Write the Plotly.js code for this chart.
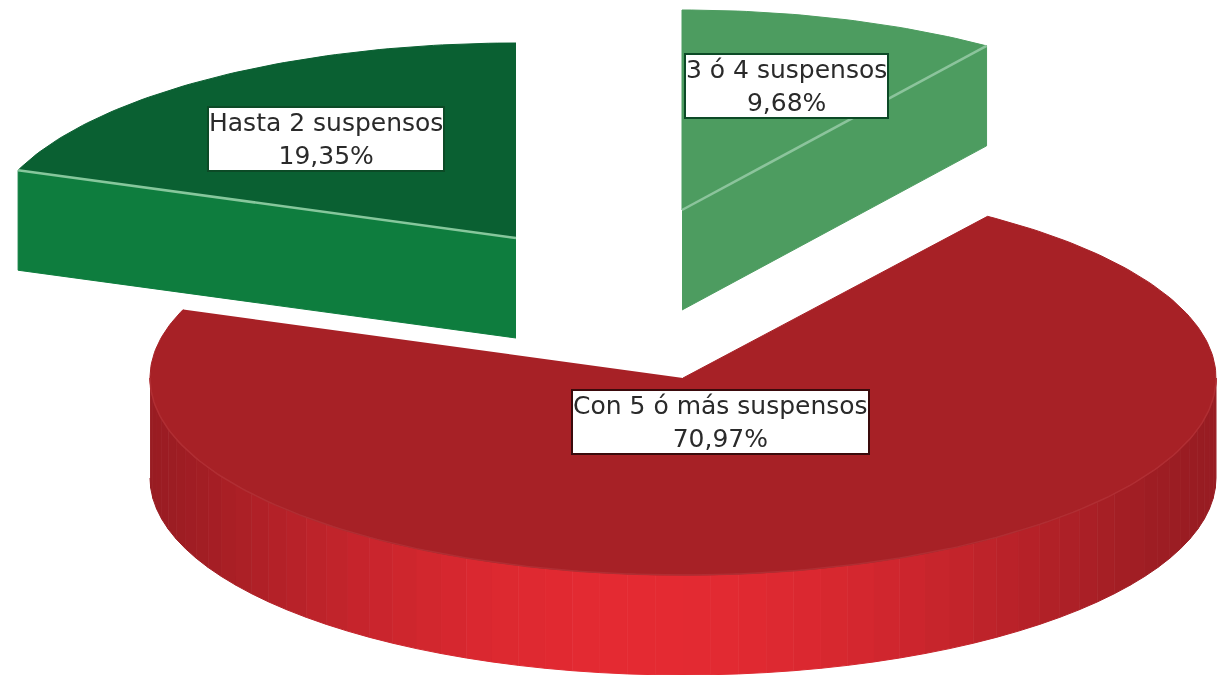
<!DOCTYPE html>
<html><head><meta charset="utf-8">
<script src="https://cdn.plot.ly/plotly-3.0.1.min.js"></script>
<style>html,body{margin:0;padding:0;background:#fff;overflow:hidden}#c{width:1229px;height:675px;filter:blur(0.6px)}</style>
</head><body><div id="c"></div>
<script>
// Data (clockwise from 12 o'clock)
const categories = ['3 ó 4 suspensos', 'Con 5 ó más suspensos', 'Hasta 2 suspensos'];
const shares = [9.68, 70.97, 19.35];
const shareLabels = ['9,68%', '70,97%', '19,35%'];

// Style
const topColors = ['#4d9c60', '#a72126', '#0a6032'];
const wallColors = ['#4d9c60', '#a72126', '#0e7d3e'];
const edgeColors = ['#8cc49c', '#b02e33', '#86c79c'];
const wallDark = [152, 28, 34], wallBright = [228, 42, 50];
const boxBorders = ['#0c4a26', '#3a0a0c', '#0c4a26'];

// Projection of the tilted disc, in pixel-like axis units
const cx = 683, cy = 378, depth = 100;
const rxs = [533, 533, 531], rys = [200, 197, 195];
const offsets = [[-1, -168], [0, 0], [-167, -140]];
const labelAt = [[786.5, 85.5], [720.5, 421.5], [325.5, 139]];

const rad = d => d * Math.PI / 180;
const rim = (i, a, dz) => [cx + offsets[i][0] + rxs[i] * Math.cos(rad(a)), cy + offsets[i][1] - rys[i] * Math.sin(rad(a)) + dz];
const apex = (i, dz) => [cx + offsets[i][0], cy + offsets[i][1] + dz];
function arc(i, a0, a1, dz) {
  const n = Math.max(2, Math.ceil(Math.abs(a1 - a0))), out = [];
  for (let k = 0; k <= n; k++) out.push(rim(i, a0 + (a1 - a0) * k / n, dz));
  return out;
}
const traces = [];
function poly(pts, fill) {
  traces.push({type: 'scatter', mode: 'lines', x: pts.map(p => p[0]), y: pts.map(p => p[1]), fill: 'toself',
    fillcolor: fill, line: {color: fill, width: 1}, hoverinfo: 'skip', showlegend: false});
}
function stroke(pts, color, width) {
  traces.push({type: 'scatter', mode: 'lines', x: pts.map(p => p[0]), y: pts.map(p => p[1]),
    line: {color: color, width: width}, hoverinfo: 'skip', showlegend: false});
}

// slice angles from the values
const total = shares.reduce((a, b) => a + b, 0);
let ang = 90;
const spans = shares.map(s => { const a0 = ang; ang -= s / total * 360; return [a0, ang]; });

// 1. large slice: curved front wall with shading, then top
{
  const i = 1, [a0, a1] = spans[i];
  for (let a = 180; a < 360; a += 3) {
    const b = a + 3;
    const t = Math.pow(Math.max(0, -Math.sin(rad(a + 1.5 + 4))), 2.8);
    const c = wallDark.map((d, j) => Math.round(d + (wallBright[j] - d) * t));
    poly(arc(i, a, b, 0).concat(arc(i, b, a, depth)), `rgb(${c.join(',')})`);
  }
  poly([apex(i, 0)].concat(arc(i, a0, a1, 0)), topColors[i]);
  stroke(arc(i, 180, 360, 0), edgeColors[i], 1.5);
}
// 2. dark green slice: top, then cut face toward the viewer
{
  const i = 2, [a0, a1] = spans[i];
  poly([apex(i, 0)].concat(arc(i, a0, a1, 0)), topColors[i]);
  poly([apex(i, 0), rim(i, a0, 0), rim(i, a0, depth), apex(i, depth)], wallColors[i]);
  stroke([rim(i, a0, 0), apex(i, 0)], edgeColors[i], 2.5);
}
// 3. light green slice
{
  const i = 0, [a0, a1] = spans[i];
  poly([apex(i, 0)].concat(arc(i, a0, a1, 0)), topColors[i]);
  poly([apex(i, 0), rim(i, a1, 0), rim(i, a1, depth), apex(i, depth)], wallColors[i]);
  stroke([apex(i, 0), rim(i, a1, 0)], edgeColors[i], 2.5);
}

const annotations = categories.map((c, i) => ({
  x: labelAt[i][0], y: labelAt[i][1], xref: 'x', yref: 'y', showarrow: false,
  text: c + '<br>' + shareLabels[i], align: 'center', xanchor: 'center', yanchor: 'middle',
  font: {family: 'DejaVu Sans, sans-serif', size: 25, color: '#2a2a2a'},
  bgcolor: '#fff', bordercolor: boxBorders[i], borderwidth: 2, borderpad: 0
}));

Plotly.newPlot('c', traces, {
  width: 1229, height: 675, margin: {l: 0, r: 0, t: 0, b: 0},
  paper_bgcolor: '#fff', plot_bgcolor: '#fff', showlegend: false, annotations: annotations,
  xaxis: {range: [0, 1229], visible: false, fixedrange: true},
  yaxis: {range: [675, 0], visible: false, fixedrange: true}
}, {displayModeBar: false, staticPlot: true});
</script></body></html>
